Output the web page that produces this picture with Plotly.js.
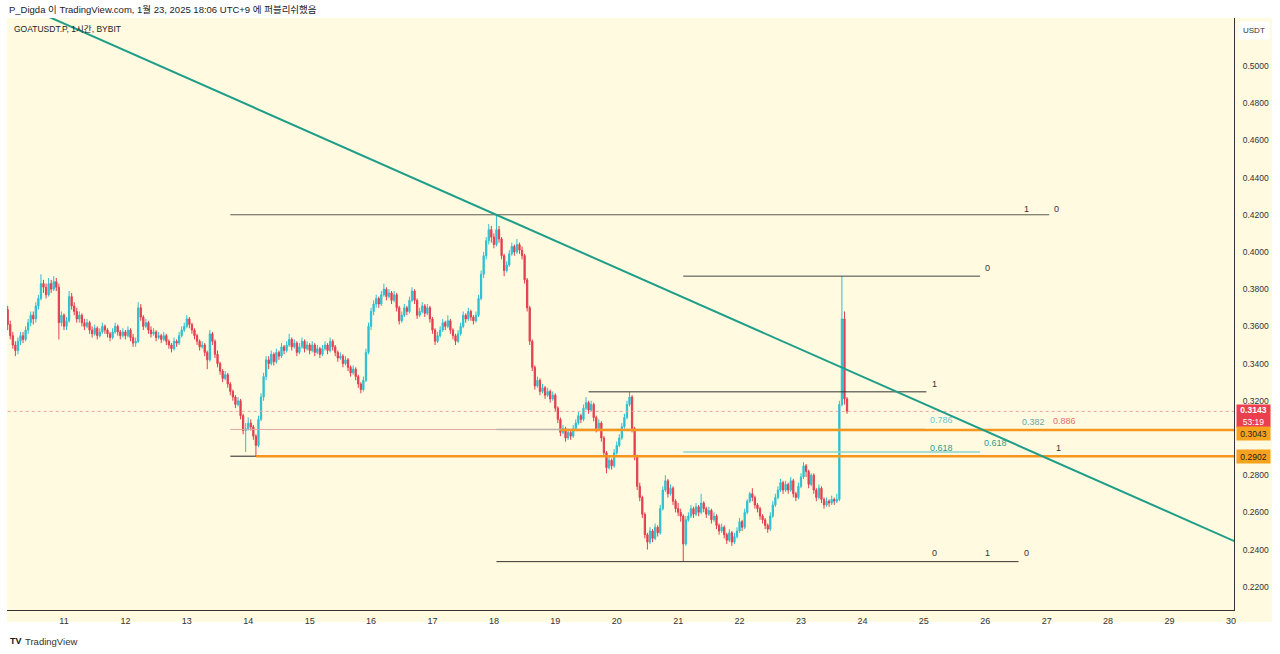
<!DOCTYPE html>
<html><head><meta charset="utf-8">
<script src="https://cdn.plot.ly/plotly-3.0.1.min.js"></script>
<style>html,body{margin:0;padding:0;background:#fff;}#chart{width:1280px;height:654px;}</style>
</head><body><div id="chart"></div>
<script>
// Hourly candles GOATUSDT.P (BYBIT), first candle 2025-01-10 02:00 (UTC+9)
const firstCandle = [2025, 0, 10, 2];
const openP = [
.369,.361,.355,.350,.347,.352,.355,.353,.358,.362,
.366,.364,.371,.375,.383,.381,.377,.383,.380,.384,
.381,.362,.366,.360,.363,.376,.371,.368,.364,.366,
.362,.360,.362,.358,.356,.359,.355,.357,.360,.358,
.356,.354,.357,.360,.357,.355,.357,.355,.358,.354,
.351,.352,.370,.365,.360,.362,.358,.356,.357,.354,
.355,.353,.355,.352,.350,.348,.352,.351,.355,.358,
.360,.364,.361,.358,.355,.352,.349,.350,.346,.342,
.356,.352,.345,.340,.336,.332,.334,.329,.325,.322,
.318,.320,.312,.304,.305,.308,.306,.301,.296,.310,
.322,.333,.342,.340,.345,.341,.346,.344,.349,.347,
.350,.353,.349,.351,.346,.349,.352,.348,.350,.347,
.350,.346,.348,.345,.348,.350,.347,.352,.349,.346,
.343,.344,.340,.342,.338,.335,.337,.333,.329,.326,
.331,.346,.360,.368,.372,.375,.372,.377,.380,.376,
.378,.374,.377,.370,.363,.366,.370,.368,.374,.379,
.374,.366,.368,.371,.367,.370,.364,.358,.352,.355,
.358,.362,.360,.363,.358,.355,.352,.356,.360,.366,
.364,.368,.365,.363,.366,.375,.388,.398,.406,.412,
.408,.404,.412,.407,.398,.390,.393,.399,.403,.400,
.404,.401,.398,.385,.370,.352,.338,.328,.331,.325,
.327,.323,.325,.321,.323,.316,.310,.303,.305,.300,
.303,.301,.305,.308,.312,.310,.316,.319,.315,.318,
.311,.305,.308,.300,.292,.284,.288,.285,.292,.296,
.300,.306,.311,.318,.322,.305,.290,.274,.268,.259,
.248,.244,.250,.246,.252,.249,.262,.272,.277,.270,
.273,.266,.262,.260,.258,.243,.256,.258,.262,.259,
.263,.260,.265,.262,.259,.261,.256,.258,.253,.250,
.252,.248,.245,.249,.244,.247,.250,.255,.252,.260,
.266,.270,.268,.264,.262,.258,.256,.253,.251,.258,
.264,.268,.272,.276,.272,.275,.272,.277,.270,.268,
.274,.279,.285,.282,.275,.280,.272,.268,.273,.267,
.264,.266,.265,.267,.266,.267,.318,.364,.321];
const highP = [
.371,.363,.357,.352,.354,.357,.357,.360,.364,.368,
.368,.373,.377,.388,.385,.383,.386,.385,.387,.386,
.383,.368,.367,.365,.379,.378,.373,.370,.368,.367,
.364,.364,.363,.360,.361,.360,.359,.362,.361,.359,
.357,.359,.362,.361,.358,.359,.358,.360,.359,.356,
.354,.373,.372,.366,.364,.363,.360,.359,.358,.357,
.356,.357,.356,.353,.351,.354,.353,.357,.360,.362,
.366,.365,.362,.359,.356,.353,.352,.351,.347,.358,
.357,.353,.347,.341,.337,.336,.335,.330,.326,.323,
.322,.321,.313,.308,.311,.310,.307,.302,.312,.324,
.335,.344,.344,.347,.346,.348,.347,.351,.350,.352,
.356,.354,.353,.352,.351,.354,.353,.352,.351,.352,
.351,.350,.349,.350,.352,.351,.354,.353,.350,.347,
.346,.345,.344,.343,.339,.339,.338,.334,.330,.333,
.348,.362,.370,.374,.377,.376,.379,.383,.381,.380,
.379,.379,.378,.371,.368,.372,.371,.376,.381,.380,
.375,.370,.373,.372,.372,.371,.365,.359,.357,.360,
.364,.363,.366,.364,.359,.356,.358,.362,.368,.367,
.370,.369,.366,.368,.377,.390,.400,.408,.415,.414,
.410,.420,.414,.408,.399,.395,.401,.405,.404,.407,
.405,.403,.399,.386,.371,.353,.339,.333,.332,.329,
.328,.327,.326,.325,.324,.317,.311,.307,.306,.305,
.304,.307,.310,.314,.313,.318,.322,.320,.320,.319,
.312,.310,.309,.301,.293,.290,.289,.294,.298,.302,
.308,.313,.320,.3248,.323,.306,.291,.276,.269,.260,
.249,.252,.251,.254,.253,.264,.274,.280,.278,.275,
.274,.267,.265,.262,.259,.258,.260,.264,.263,.265,
.264,.270,.266,.263,.263,.262,.260,.259,.254,.254,
.253,.249,.251,.250,.249,.252,.257,.256,.262,.267,
.271,.273,.269,.265,.263,.259,.257,.254,.260,.266,
.270,.274,.278,.277,.277,.276,.279,.278,.271,.276,
.281,.287,.286,.283,.281,.281,.273,.275,.274,.268,
.268,.267,.269,.268,.270,.320,.387,.368,.322];
const lowP = [
.358,.353,.348,.344,.345,.350,.351,.352,.356,.360,
.361,.362,.369,.374,.378,.375,.376,.378,.379,.379,
.353,.360,.358,.358,.362,.369,.366,.362,.362,.360,
.358,.359,.356,.354,.355,.353,.354,.356,.356,.354,
.352,.353,.356,.355,.353,.354,.353,.354,.352,.349,
.349,.351,.363,.358,.359,.356,.354,.355,.352,.353,
.351,.352,.350,.348,.346,.347,.349,.350,.354,.357,
.359,.359,.356,.353,.350,.347,.348,.344,.337,.341,
.350,.343,.338,.334,.330,.331,.327,.323,.320,.316,
.317,.310,.302,.2925,.304,.304,.299,.2902,.295,.309,
.320,.331,.337,.339,.339,.340,.342,.343,.345,.346,
.349,.347,.348,.344,.345,.348,.346,.347,.345,.346,
.344,.345,.343,.344,.347,.345,.346,.347,.344,.341,
.342,.338,.339,.336,.333,.334,.331,.327,.324,.325,
.330,.345,.358,.366,.370,.370,.371,.376,.374,.375,
.372,.373,.368,.361,.362,.365,.366,.367,.373,.372,
.364,.365,.367,.365,.366,.362,.356,.350,.351,.354,
.357,.358,.359,.356,.353,.350,.351,.355,.359,.362,
.363,.363,.361,.362,.365,.374,.386,.396,.404,.405,
.402,.403,.405,.396,.387,.389,.392,.398,.398,.399,
.399,.396,.383,.368,.350,.336,.326,.327,.323,.324,
.321,.322,.319,.320,.314,.308,.301,.302,.298,.299,
.299,.300,.304,.307,.308,.309,.315,.313,.314,.309,
.303,.304,.298,.290,.281,.283,.283,.284,.291,.295,
.299,.305,.310,.317,.303,.288,.272,.266,.257,.246,
.240,.243,.244,.245,.247,.248,.261,.271,.268,.269,
.264,.260,.258,.255,.2335,.242,.255,.257,.257,.258,
.258,.259,.260,.257,.258,.254,.255,.251,.248,.249,
.246,.243,.244,.242,.243,.246,.249,.250,.251,.259,
.265,.266,.262,.260,.256,.254,.251,.249,.250,.257,
.263,.267,.271,.270,.271,.270,.271,.268,.266,.267,
.273,.278,.279,.273,.274,.270,.266,.267,.265,.262,
.263,.263,.264,.264,.265,.266,.317,.318,.313];
const closeP = [
.361,.355,.350,.347,.352,.355,.353,.358,.362,.366,
.364,.371,.375,.383,.381,.377,.383,.380,.384,.381,
.362,.366,.360,.363,.376,.371,.368,.364,.366,.362,
.360,.362,.358,.356,.359,.355,.357,.360,.358,.356,
.354,.357,.360,.357,.355,.357,.355,.358,.354,.351,
.352,.370,.365,.360,.362,.358,.356,.357,.354,.355,
.353,.355,.352,.350,.348,.352,.351,.355,.358,.360,
.364,.361,.358,.355,.352,.349,.350,.346,.342,.356,
.352,.345,.340,.336,.332,.334,.329,.325,.322,.318,
.320,.312,.304,.305,.308,.306,.301,.296,.310,.322,
.333,.342,.340,.345,.341,.346,.344,.349,.347,.350,
.353,.349,.351,.346,.349,.352,.348,.350,.347,.350,
.346,.348,.345,.348,.350,.347,.352,.349,.346,.343,
.344,.340,.342,.338,.335,.337,.333,.329,.326,.331,
.346,.360,.368,.372,.375,.372,.377,.380,.376,.378,
.374,.377,.370,.363,.366,.370,.368,.374,.379,.374,
.366,.368,.371,.367,.370,.364,.358,.352,.355,.358,
.362,.360,.363,.358,.355,.352,.356,.360,.366,.364,
.368,.365,.363,.366,.375,.388,.398,.406,.412,.408,
.404,.412,.407,.398,.390,.393,.399,.403,.400,.404,
.401,.398,.385,.370,.352,.338,.328,.331,.325,.327,
.323,.325,.321,.323,.316,.310,.303,.305,.300,.303,
.301,.305,.308,.312,.310,.316,.319,.315,.318,.311,
.305,.308,.300,.292,.284,.288,.285,.292,.296,.300,
.306,.311,.318,.322,.305,.290,.274,.268,.259,.248,
.244,.250,.246,.252,.249,.262,.272,.277,.270,.273,
.266,.262,.260,.258,.243,.256,.258,.262,.259,.263,
.260,.265,.262,.259,.261,.256,.258,.253,.250,.252,
.248,.245,.249,.244,.247,.250,.255,.252,.260,.266,
.270,.268,.264,.262,.258,.256,.253,.251,.258,.264,
.268,.272,.276,.272,.275,.272,.277,.270,.268,.274,
.279,.285,.282,.275,.280,.272,.268,.273,.267,.264,
.266,.265,.267,.266,.267,.318,.364,.321,.3143];

// Price-scale labels (0.3000 sits under the 0.3043 marker in the reference)
const priceTicks = [0.22, 0.24, 0.26, 0.28, 0.32, 0.34, 0.36, 0.38, 0.40, 0.42, 0.44, 0.46, 0.48, 0.50];
const countdown = '53:19';

// Drawing tools on the chart (levels / anchors)
const lastPrice = 0.3143;
const levelOrange = [0.3043, 0.2902];
const fibLevels = [
  {p:0.4200, t0:'2025-01-13 17:00', t1:'2025-01-27 01:00', c:'#5a5a52', w:1},
  {p:0.3870, t0:'2025-01-21 02:00', t1:'2025-01-25 22:00', c:'#444', w:1},
  {p:0.3248, t0:'2025-01-19 13:00', t1:'2025-01-25 01:00', c:'#333', w:1},
  {p:0.2335, t0:'2025-01-18 01:00', t1:'2025-01-26 13:00', c:'#333', w:1},
  {p:0.2902, t0:'2025-01-13 17:00', t1:'2025-01-14 03:00', c:'#222', w:1},
  {p:0.3046, t0:'2025-01-13 17:00', t1:'2025-01-19 02:00', c:'#e3a2a4', w:1},
  {p:0.3046, t0:'2025-01-18 01:00', t1:'2025-01-25 00:30', c:'#b9b7b0', w:1.5},
  {p:0.2925, t0:'2025-01-21 02:00', t1:'2025-01-25 22:00', c:'#8fd3cc', w:1.5}
];
const orangeStart = ['2025-01-19 02:00', '2025-01-14 03:00'];
const trendLine = {t0:'2025-01-10 14:00', p0:0.5289, t1:'2025-01-30 06:00', p1:0.2417};
const fibTexts = [
  {s:'1', t:'2025-01-26 16:00', p:0.4231, c:'#333'},
  {s:'0', t:'2025-01-27 04:00', p:0.4231, c:'#333'},
  {s:'0', t:'2025-01-26 01:00', p:0.3914, c:'#333'},
  {s:'1', t:'2025-01-25 04:00', p:0.3290, c:'#333'},
  {s:'0', t:'2025-01-25 04:00', p:0.2382, c:'#333'},
  {s:'1', t:'2025-01-26 01:00', p:0.2382, c:'#333'},
  {s:'0', t:'2025-01-26 16:00', p:0.2382, c:'#333'},
  {s:'0.786', t:'2025-01-25 07:00', p:0.3097, c:'#6cc9cc'},
  {s:'0.382', t:'2025-01-26 19:00', p:0.3086, c:'#6fa6a0'},
  {s:'0.886', t:'2025-01-27 07:00', p:0.3091, c:'#e86a6f'},
  {s:'0.618', t:'2025-01-25 07:00', p:0.2946, c:'#2a9d8f'},
  {s:'0.618', t:'2025-01-26 04:00', p:0.2973, c:'#2a9d8f'},
  {s:'1', t:'2025-01-27 04:30', p:0.2946, c:'#333'}
];

const times = [];
const t0ms = Date.UTC(firstCandle[0], firstCandle[1], firstCandle[2], firstCandle[3]);
for (let i = 0; i < closeP.length; i++) {
  times.push(new Date(t0ms + i * 3600000).toISOString().slice(0, 16).replace('T', ' '));
}

// pixel helpers for plot area: x 7..1234, y 18..610
const PL = 7, PR = 1234, PT = 18, PB = 610;
const px = x => (x - PL) / (PR - PL);
const py = y => (PB - y) / (PB - PT);

const FONT = 'Liberation Sans, Arial, Noto Sans CJK KR, sans-serif';
const CREAM = '#fffae0';
const UP = '#2cc0d2', DOWN = '#e43f4f';

const trace = {
  type: 'candlestick', x: times, open: openP, high: highP, low: lowP, close: closeP,
  increasing: {line: {color: UP, width: 1}, fillcolor: UP},
  decreasing: {line: {color: DOWN, width: 1}, fillcolor: DOWN},
  whiskerwidth: 0, hoverinfo: 'skip', showlegend: false
};

const shapes = [
  {type:'rect', xref:'paper', yref:'paper', x0:0, x1:px(1272), y0:py(622), y1:1,
   fillcolor:CREAM, line:{width:0}, layer:'below'},
  {type:'line', xref:'x', yref:'y', x0:times[0], x1:'2025-02-05 00:00', y0:lastPrice, y1:lastPrice,
   line:{color:'#f2a0a6', width:1, dash:'dot'}}
];
fibLevels.forEach(f => shapes.push({type:'line', xref:'x', yref:'y', x0:f.t0, x1:f.t1, y0:f.p, y1:f.p,
  line:{color:f.c, width:f.w}}));
levelOrange.forEach((p, k) => shapes.push({type:'line', xref:'x', yref:'y', x0:orangeStart[k], x1:'2025-02-05 00:00',
  y0:p, y1:p, line:{color:'#f7961e', width:2.5}}));
shapes.push({type:'line', xref:'x', yref:'y', x0:trendLine.t0, y0:trendLine.p0, x1:trendLine.t1, y1:trendLine.p1,
  line:{color:'#1e9e88', width:2}});

const annotations = [];
fibTexts.forEach(a => annotations.push({xref:'x', yref:'y', x:a.t, y:a.p, text:a.s, showarrow:false,
  font:{family:FONT, size:9, color:a.c}}));
annotations.push(
  {xref:'paper', yref:'paper', x:px(7), y:py(9), xanchor:'left', yanchor:'middle', showarrow:false,
   text:'P_Digda 이 TradingView.com, 1월 23, 2025 18:06 UTC+9 에 퍼블리쉬했음',
   font:{family:FONT, size:9.5, color:'#222'}},
  {xref:'paper', yref:'paper', x:px(12), y:py(29), xanchor:'left', yanchor:'middle', showarrow:false,
   text:'GOATUSDT.P, 1시간, BYBIT', font:{family:FONT, size:8.5, color:'#222'}},
  {xref:'paper', yref:'paper', x:px(1254), y:py(30), xanchor:'center', yanchor:'middle', showarrow:false,
   text:'USDT', bgcolor:'#ffffff', borderpad:4, font:{family:FONT, size:8, color:'#333'}},
  {xref:'paper', yref:'paper', x:px(1236), y:py(416), xanchor:'left', yanchor:'middle', showarrow:false,
   text:'<b>' + lastPrice.toFixed(4) + '</b><br>' + countdown, align:'center', valign:'middle',
   bgcolor:'#ea3f4f', borderpad:0, width:33, height:22,
   font:{family:FONT, size:8.5, color:'#ffffff'}},
  {xref:'paper', yref:'paper', x:px(1236), y:py(434), xanchor:'left', yanchor:'middle', showarrow:false,
   text:levelOrange[0].toFixed(4), bgcolor:'#f7a21f', borderpad:0, width:33, height:13,
   font:{family:FONT, size:8.5, color:'#222'}},
  {xref:'paper', yref:'paper', x:px(1236), y:py(456), xanchor:'left', yanchor:'middle', showarrow:false,
   text:levelOrange[1].toFixed(4), bgcolor:'#f7a21f', borderpad:0, width:33, height:13,
   font:{family:FONT, size:8.5, color:'#222'}},
  {xref:'paper', yref:'paper', x:px(8), y:py(641), xanchor:'left', yanchor:'middle', showarrow:false,
   text:'<b>TV</b>', font:{family:FONT, size:9, color:'#131722'}},
  {xref:'paper', yref:'paper', x:px(23), y:py(641), xanchor:'left', yanchor:'middle', showarrow:false,
   text:'TradingView', font:{family:FONT, size:9.5, color:'#333'}}
);

const layout = {
  width: 1280, height: 654,
  margin: {l: PL, r: 1280 - PR, t: PT, b: 654 - PB, pad: 0},
  paper_bgcolor: '#ffffff', plot_bgcolor: CREAM,
  showlegend: false, hovermode: false, dragmode: false,
  xaxis: {
    type: 'date', range: ['2025-01-10 01:44', '2025-01-30 01:13'],
    rangeslider: {visible: false}, showgrid: false, zeroline: false,
    showline: true, linecolor: '#333', linewidth: 1,
    tick0: '2025-01-11', dtick: 86400000, tickformat: '%-d',
    ticks: 'outside', ticklen: 2, tickcolor: 'rgba(0,0,0,0)',
    tickfont: {family: FONT, size: 9, color: '#333'}
  },
  yaxis: {
    side: 'right', range: [0.2075, 0.5258], showgrid: false, zeroline: false,
    showline: true, linecolor: '#333', linewidth: 1,
    tickmode: 'array', tickvals: priceTicks, tickformat: '.4f',
    ticks: 'outside', ticklen: 6, tickcolor: 'rgba(0,0,0,0)',
    tickfont: {family: FONT, size: 8.5, color: '#333'}
  },
  shapes: shapes, annotations: annotations
};

Plotly.newPlot('chart', [trace], layout, {staticPlot: true, displayModeBar: false});
</script>
</body></html>
